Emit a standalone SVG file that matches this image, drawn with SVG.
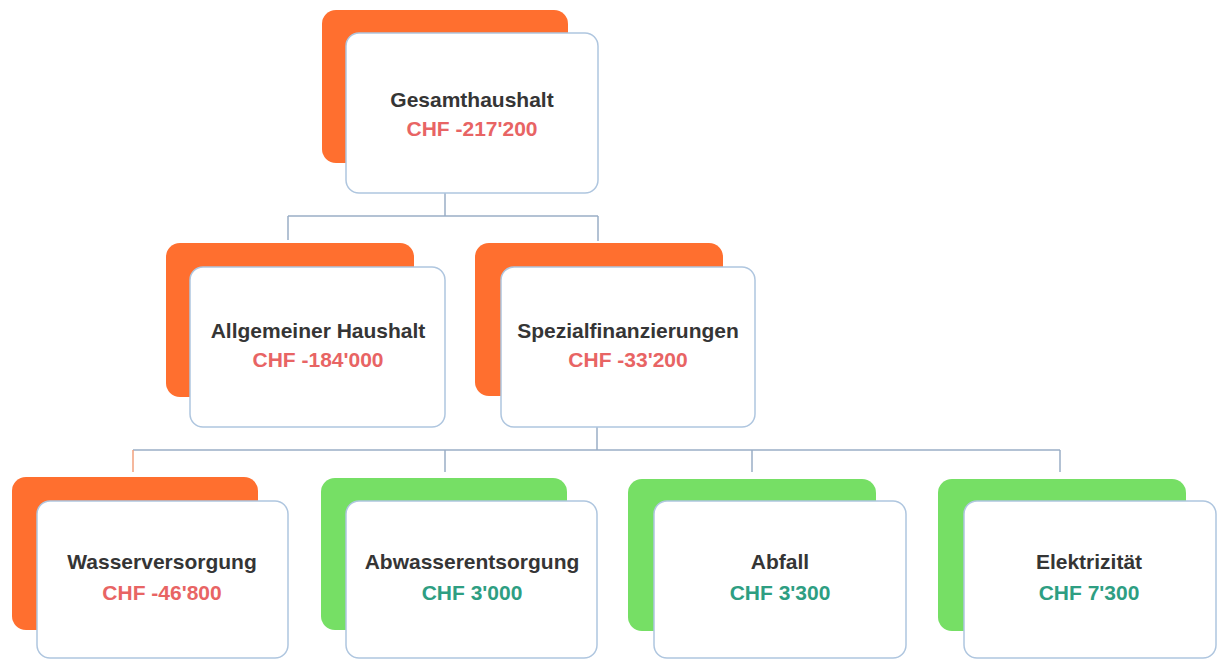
<svg xmlns="http://www.w3.org/2000/svg" width="1220" height="660" viewBox="0 0 1220 660">
<style>
.bg{fill:#ffffff}
.back-neg{fill:#FF6F2F}
.back-pos{fill:#76DF65}
.front{fill:#ffffff;stroke:#AFC6DF;stroke-width:1.5}
.name{font-family:"Liberation Sans",Arial,sans-serif;font-weight:bold;font-size:21px;fill:#353535;text-anchor:middle}
.neg{font-family:"Liberation Sans",Arial,sans-serif;font-weight:bold;font-size:21px;fill:#E86464;text-anchor:middle}
.pos{font-family:"Liberation Sans",Arial,sans-serif;font-weight:bold;font-size:21px;fill:#2E9E82;text-anchor:middle}
.conn{stroke:#9AAEC6;stroke-width:1.5;fill:none}
.conn-o{stroke:#F2A07C;stroke-width:1.5;fill:none}
</style>
<rect class="bg" x="0" y="0" width="1220" height="660"/>
<g id="connectors">
<path class="conn" d="M445,193 V216 M288,216 H598 M288,216 V240 M598,216 V241"/>
<path class="conn" d="M597,427 V450 M133,450 H1060 M445,450 V472 M752,450 V472 M1060,450 V472"/>
<path class="conn-o" d="M133,450 V472"/>
</g>
<g id="gesamthaushalt">
<rect class="back-neg" x="322" y="10" width="246" height="153" rx="14"/>
<rect class="front" x="346" y="33" width="252" height="160" rx="13"/>
<text class="name" x="472" y="107">Gesamthaushalt</text>
<text class="neg" x="472" y="136">CHF -217'200</text>
</g>
<g id="allgemeiner-haushalt">
<rect class="back-neg" x="166" y="243" width="248" height="154" rx="14"/>
<rect class="front" x="190" y="267" width="255" height="160" rx="13"/>
<text class="name" x="318" y="338">Allgemeiner Haushalt</text>
<text class="neg" x="318" y="367">CHF -184'000</text>
</g>
<g id="spezialfinanzierungen">
<rect class="back-neg" x="475" y="243" width="248" height="153" rx="14"/>
<rect class="front" x="501" y="267" width="254" height="160" rx="13"/>
<text class="name" x="628" y="338">Spezialfinanzierungen</text>
<text class="neg" x="628" y="367">CHF -33'200</text>
</g>
<g id="wasserversorgung">
<rect class="back-neg" x="12" y="477" width="246" height="153" rx="14"/>
<rect class="front" x="37" y="501" width="251" height="157" rx="13"/>
<text class="name" x="162" y="569">Wasserversorgung</text>
<text class="neg" x="162" y="600">CHF -46'800</text>
</g>
<g id="abwasserentsorgung">
<rect class="back-pos" x="321" y="478" width="246" height="152" rx="14"/>
<rect class="front" x="346" y="501" width="251" height="157" rx="13"/>
<text class="name" x="472" y="569">Abwasserentsorgung</text>
<text class="pos" x="472" y="600">CHF 3'000</text>
</g>
<g id="abfall">
<rect class="back-pos" x="628" y="479" width="248" height="152" rx="14"/>
<rect class="front" x="654" y="501" width="252" height="157" rx="13"/>
<text class="name" x="780" y="569">Abfall</text>
<text class="pos" x="780" y="600">CHF 3'300</text>
</g>
<g id="elektrizitaet">
<rect class="back-pos" x="938" y="479" width="248" height="152" rx="14"/>
<rect class="front" x="964" y="501" width="252" height="157" rx="13"/>
<text class="name" x="1089" y="569">Elektrizität</text>
<text class="pos" x="1089" y="600">CHF 7'300</text>
</g>
</svg>
